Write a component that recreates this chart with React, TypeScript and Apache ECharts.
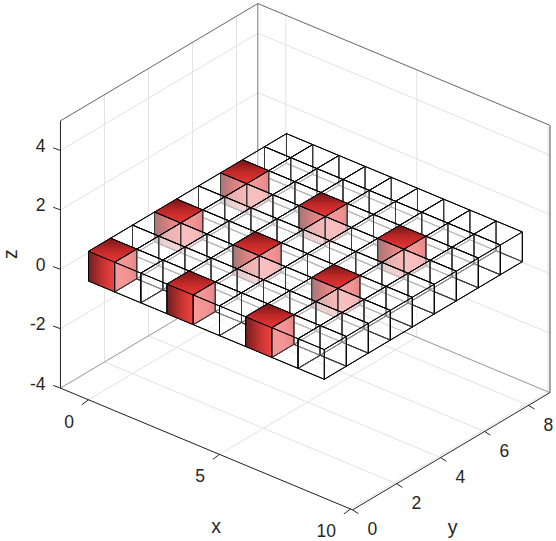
import React, { useEffect, useRef } from "react";
import * as echarts from "echarts";

const xTicks = [0, 5, 10];
const yTicks = [0, 2, 4, 6, 8];
const zTicks = [-4, -2, 0, 2, 4];
const xLim = [-1.07, 10.08];
const yLim = [0, 8.97];
const zLim = [-4, 5];
const cellXs = [0, 1, 2, 3, 4, 5, 6, 7, 8];
const cellYs = [0, 1, 2, 3, 4, 5, 6, 7, 8];
const redXs = [0, 3, 6];
const redYs = [0, 3, 6];
const cellBottom = 0;
const cellTop = 1;

const FONT = "'Liberation Sans', Arial, sans-serif";
const TEXT = "#262626";
const WASH = "rgba(255,255,255,0.22)";

// Orthographic view of the 3D data space onto the hidden 2D plane
const project = (x: number, y: number, z: number) => [
  88.5 + 26.2 * x + 22 * y,
  281 + 10.92 * x - 13.07 * y - 29.7 * z,
];

const topFill = new echarts.graphic.LinearGradient(0, 0, 0, 1, [
  { offset: 0, color: "#741616" },
  { offset: 0.5, color: "#c02828" },
  { offset: 1, color: "#ea3636" },
]);
const leftFill = new echarts.graphic.LinearGradient(0, 0, 1, 0, [
  { offset: 0, color: "#6e2020" },
  { offset: 0.55, color: "#c83232" },
  { offset: 1, color: "#ee4444" },
]);
const rightFill = new echarts.graphic.LinearGradient(0, 0, 1, 0, [
  { offset: 0, color: "#f25a5a" },
  { offset: 0.6, color: "#ec5050" },
  { offset: 1, color: "#d43c3c" },
]);

const cells: number[][] = [];
cellXs.forEach((i) => {
  [...cellYs].reverse().forEach((j) => {
    cells.push([i, j, redXs.includes(i) && redYs.includes(j) ? 1 : 0]);
  });
});

function renderCell(params: any, api: any) {
  const i = api.value(0);
  const j = api.value(1);
  const red = api.value(2) === 1;
  const pt = (x: number, y: number, z: number) => api.coord(project(x, y, z));
  const [a, b] = [i, i + 1];
  const [c, d] = [j, j + 1];
  const [lo, hi] = [cellBottom, cellTop];
  const face = (points: number[][], fill: any) => ({
    type: "polygon",
    silent: true,
    shape: { points },
    style: { fill, stroke: "#000", lineWidth: 1, lineJoin: "miter" },
  });
  const children = [
    face([pt(a, c, lo), pt(a, d, lo), pt(a, d, hi), pt(a, c, hi)], WASH),
    face([pt(a, d, lo), pt(b, d, lo), pt(b, d, hi), pt(a, d, hi)], WASH),
    face([pt(a, c, lo), pt(b, c, lo), pt(b, d, lo), pt(a, d, lo)], WASH),
    face([pt(a, c, lo), pt(b, c, lo), pt(b, c, hi), pt(a, c, hi)], red ? leftFill : WASH),
    face([pt(b, c, lo), pt(b, d, lo), pt(b, d, hi), pt(b, c, hi)], red ? rightFill : WASH),
    face([pt(a, c, hi), pt(b, c, hi), pt(b, d, hi), pt(a, d, hi)], red ? topFill : WASH),
  ];
  return { type: "group", children };
}

function renderAxes(params: any, api: any) {
  const pt = (x: number, y: number, z: number) => api.coord(project(x, y, z));
  const [x0, x1] = xLim;
  const [y0, y1] = yLim;
  const [z0, z1] = zLim;
  const seg = (p: number[], q: number[], stroke: string, lineWidth = 1) => ({
    type: "line",
    silent: true,
    shape: { x1: p[0], y1: p[1], x2: q[0], y2: q[1] },
    style: { stroke, lineWidth },
  });
  const label = (p: number[], text: string, align: string, fontSize = 17.5, rotation = 0) => ({
    type: "text",
    silent: true,
    x: p[0],
    y: p[1],
    rotation,
    style: { text, fontSize, fontFamily: FONT, fill: TEXT, align, verticalAlign: "middle" },
  });
  const add = (p: number[], dx: number, dy: number) => [p[0] + dx, p[1] + dy];
  const GRID = "#e2e2e2";
  const children: any[] = [];
  xTicks.forEach((x) => {
    children.push(seg(pt(x, y0, z0), pt(x, y1, z0), GRID));
    children.push(seg(pt(x, y1, z0), pt(x, y1, z1), GRID));
  });
  yTicks.forEach((y) => {
    children.push(seg(pt(x0, y, z0), pt(x1, y, z0), GRID));
    children.push(seg(pt(x0, y, z0), pt(x0, y, z1), GRID));
  });
  zTicks.forEach((z) => {
    children.push(seg(pt(x0, y0, z), pt(x0, y1, z), GRID));
    children.push(seg(pt(x0, y1, z), pt(x1, y1, z), GRID));
  });
  // box
  children.push(seg(pt(x0, y1, z0), pt(x0, y1, z1), "#7a7a7a", 1));
  children.push(seg(pt(x0, y0, z0), pt(x0, y1, z0), "#8a8a8a", 0.8));
  children.push(seg(pt(x0, y1, z0), pt(x1, y1, z0), "#8a8a8a", 0.8));
  children.push(seg(pt(x0, y0, z1), pt(x0, y1, z1), "#555", 0.9));
  children.push(seg(pt(x0, y1, z1), pt(x1, y1, z1), "#555", 0.9));
  children.push(seg(pt(x1, y1, z0), pt(x1, y1, z1), "#8c8c8c", 1.6));
  children.push(seg(pt(x0, y0, z0), pt(x0, y0, z1), TEXT));
  children.push(seg(pt(x0, y0, z0), pt(x1, y0, z0), TEXT));
  children.push(seg(pt(x1, y0, z0), pt(x1, y1, z0), TEXT));
  // ticks and labels
  xTicks.forEach((x) => {
    const p = pt(x, y0, z0);
    children.push(seg(p, add(p, -6.7, 5), TEXT));
    children.push(label(add(p, -14.5, 22), String(x), "right"));
  });
  yTicks.forEach((y) => {
    const p = pt(x1, y, z0);
    children.push(seg(p, add(p, 5.8, 3.7), TEXT));
    children.push(label(add(p, 15, 19.5), String(y), "left"));
  });
  zTicks.forEach((z) => {
    const p = pt(x0, y0, z);
    children.push(seg(p, add(p, -7.3, -2.7), TEXT));
    children.push(label(add(p, -15, -4.5), String(z), "right"));
  });
  children.push(label(api.coord([216, 526]), "x", "center", 19.5));
  children.push(label(api.coord([452.7, 527]), "y", "center", 19.5));
  children.push(label(api.coord([9.5, 254]), "z", "center", 19.5, Math.PI / 2));
  return { type: "group", children };
}

export default function App() {
  const ref = useRef<HTMLDivElement>(null);
  useEffect(() => {
    document.body.style.margin = "0";
    const chart = echarts.init(ref.current!, undefined, { renderer: "svg" });
    chart.setOption({
      animation: false,
      backgroundColor: "#fff",
      grid: { left: 0, right: 0, top: 0, bottom: 0 },
      xAxis: { type: "value", min: 0, max: 556, show: false },
      yAxis: { type: "value", min: 0, max: 541, inverse: true, show: false },
      series: [
        {
          type: "custom",
          coordinateSystem: "cartesian2d",
          clip: false,
          renderItem: renderAxes,
          data: [[0, 0]],
          silent: true,
          z: 1,
        },
        {
          type: "custom",
          coordinateSystem: "cartesian2d",
          clip: false,
          renderItem: renderCell,
          data: cells,
          silent: true,
          encode: { x: 0, y: 1 },
          z: 2,
        },
      ],
    });
    return () => chart.dispose();
  }, []);
  return <div ref={ref} style={{ width: 556, height: 541 }} />;
}
